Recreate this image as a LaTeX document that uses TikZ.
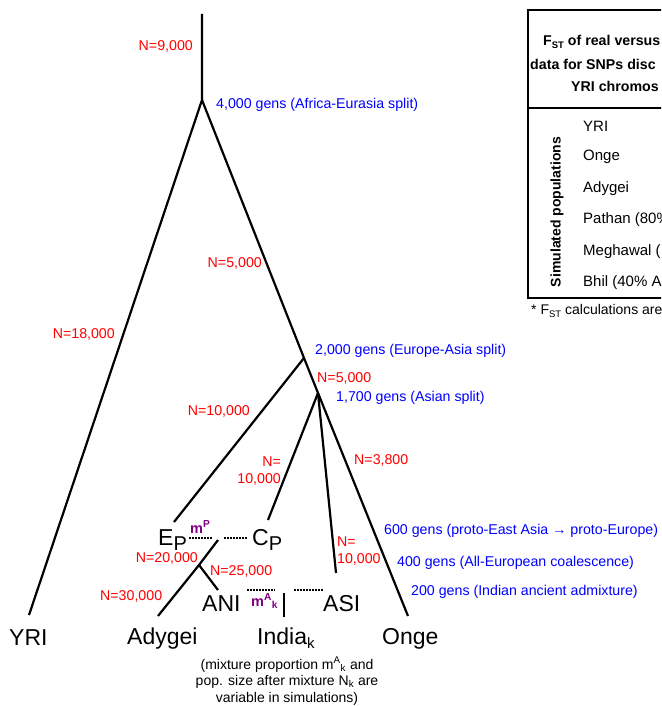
\documentclass[tikz,border=0pt]{standalone}
\usepackage{fontspec}
\setmainfont{Liberation Sans}
\definecolor{nred}{RGB}{255,0,0}
\definecolor{gblue}{RGB}{0,0,255}
\definecolor{mpurple}{RGB}{128,0,128}
\newcommand\popsub[1]{\raisebox{-5pt}{\fontsize{20}{20}\selectfont #1}}
\newcommand\smallsub[1]{\raisebox{-4pt}{\fontsize{15}{15}\selectfont #1}}
\newcommand\stsub{\raisebox{-2.5pt}{\fontsize{9.5}{9.5}\selectfont ST}}
\begin{document}
\begin{tikzpicture}[x=1pt,y=-1pt,
 branch/.style={line width=2.2pt},
 dots/.style={line width=1.6pt, dash pattern=on 1.5pt off 1.5pt},
 nlab/.style={inner sep=0, text=nred, font=\fontsize{14.2}{17.5}\selectfont},
 glab/.style={inner sep=0, text=gblue, font=\fontsize{14.2}{17}\selectfont, anchor=west},
 pop/.style={inner sep=0, font=\fontsize{23}{26}\selectfont, anchor=base west},
 mig/.style={inner sep=0, text=mpurple, font=\bfseries\fontsize{14.5}{16}\selectfont, anchor=base west},
 hdr/.style={inner sep=0, font=\bfseries\fontsize{14.2}{16}\selectfont, anchor=west},
 rowlab/.style={inner sep=0, font=\fontsize{15}{17}\selectfont, anchor=west},
 tline/.style={line width=1.5pt}
]
\useasboundingbox (0,0) rectangle (661,706);
\clip (0,0) rectangle (661,706);

% tree coordinates
\coordinate (top) at (202,14);
\coordinate (afr) at (202,100);
\coordinate (eas) at (304,358);
\coordinate (asp) at (318,393);
\coordinate (yriend) at (29,615);
\coordinate (ongeend) at (408,616);
\coordinate (epend) at (174,522);
\coordinate (cpend) at (268,520);
\coordinate (asiend) at (336,573);
\coordinate (mixtop) at (218,540);
\coordinate (mixj) at (199,565);
\coordinate (adyend) at (158,616);
\coordinate (aniend) at (218,590);
\coordinate (indtop) at (284,593);
\coordinate (indbot) at (284,617);

\draw[branch] (top) -- (afr) -- (yriend);
\draw[branch] (afr) -- (eas) -- (asp) -- (ongeend);
\draw[branch] (eas) -- (epend);
\draw[branch] (asp) -- (cpend);
\draw[branch] (asp) -- (asiend);
\draw[branch] (mixtop) -- (mixj) -- (adyend);
\draw[branch] (mixj) -- (aniend);
\draw[line width=2.8pt] (indtop) -- (indbot);

% population labels
\node[pop] (yri) at (9,645) {YRI};
\node[pop] (ady) at (127,644) {Adygei};
\node[pop] (ind) at (257,644) {India\smallsub{k}};
\node[pop] (onge) at (382,644) {Onge};
\node[pop] (ani) at (202,611) {ANI};
\node[pop] (asi) at (323,611) {ASI};
\node[pop] (ep) at (158,545) {E\popsub{P}};
\node[pop] (cp) at (252,545) {C\popsub{P}};

% migration dotted connectors
\coordinate (d1a) at (189,538); \coordinate (d1b) at (213,538);
\coordinate (d2a) at (224,538); \coordinate (d2b) at (248,538);
\coordinate (d3a) at (247,590); \coordinate (d3b) at (275,590);
\coordinate (d4a) at (294,590); \coordinate (d4b) at (323,590);
\draw[dots] (d1a) -- (d1b);
\draw[dots] (d2a) -- (d2b);
\draw[dots] (d3a) -- (d3b);
\draw[dots] (d4a) -- (d4b);
\node[mig] (mp) at (190,533) {m\textsuperscript{P}};
\node[mig] (mak) at (251,606) {m\textsuperscript{A}\textsubscript{k}};

% population size labels
\node[nlab, anchor=east] (n1) at (193,46) {N=9,000};
\node[nlab, anchor=east] (n2) at (262,263) {N=5,000};
\node[nlab, anchor=east] (n3) at (115,334) {N=18,000};
\node[nlab, anchor=west] (n4) at (317,378) {N=5,000};
\node[nlab, anchor=east] (n5) at (250,411) {N=10,000};
\node[nlab, anchor=east, align=right] (n6) at (281,471) {N=\\10,000};
\node[nlab, anchor=west] (n7) at (354,460) {N=3,800};
\node[nlab, anchor=west, align=left] (n8) at (337,551) {N=\\10,000};
\node[nlab, anchor=east] (n9) at (198,558) {N=20,000};
\node[nlab, anchor=west] (n10) at (210,571) {N=25,000};
\node[nlab, anchor=west] (n11) at (100,596) {N=30,000};

% generation labels
\node[glab] (g1) at (216,105) {4,000 gens (Africa-Eurasia split)};
\node[glab] (g2) at (315,351) {2,000 gens (Europe-Asia split)};
\node[glab] (g3) at (336,398) {1,700 gens (Asian split)};
\node[glab] (g4) at (384,531) {600 gens (proto-East Asia → proto-Europe)};
\node[glab] (g5) at (397,563) {400 gens (All-European coalescence)};
\node[glab] (g6) at (411,592) {200 gens (Indian ancient admixture)};

% caption
\node[inner sep=0, anchor=north, align=center, font=\fontsize{14}{16.5}\selectfont] (cap) at (287,657)
 {(mixture proportion m\textsuperscript{A}\textsubscript{k} and\\pop. size after mixture N\textsubscript{k} are\\variable in simulations)};

% table (cut off at the right edge)
\draw[tline] (528,10) -- (672,10);
\draw[tline] (528,108) -- (672,108);
\draw[tline] (528,298) -- (672,298);
\draw[line width=2.6pt] (528,9) -- (528,299);
\node[hdr] (h1) at (543,42) {F\stsub{} of real versus};
\node[hdr] (h2) at (530,64) {data for SNPs disc};
\node[hdr] (h3) at (571,86) {YRI chromos};
\node[inner sep=0, rotate=90, font=\bfseries\fontsize{14}{16}\selectfont] (sim) at (557,212) {Simulated populations};
\node[rowlab] (r1) at (583,126) {YRI};
\node[rowlab] (r2) at (583,157) {Onge};
\node[rowlab] (r3) at (583,189) {Adygei};
\node[rowlab] (r4) at (583,220) {Pathan (80\%};
\node[rowlab] (r5) at (583,252) {Meghawal (};
\node[rowlab] (r6) at (583,283) {Bhil (40\% A};
\node[rowlab, font=\fontsize{14}{16}\selectfont] (fn) at (531,311) {* F\stsub{} calculations are};
\end{tikzpicture}
\end{document}
